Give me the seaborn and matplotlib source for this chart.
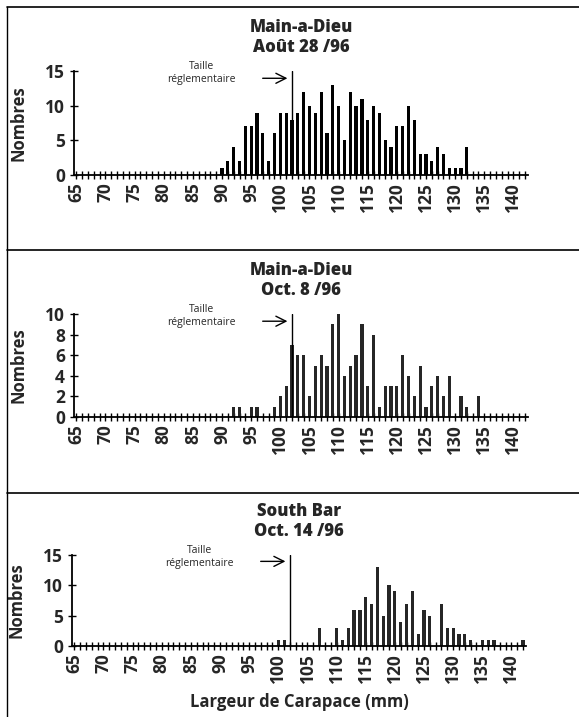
import matplotlib
matplotlib.use("Agg")
import matplotlib.pyplot as plt
import pandas as pd
import seaborn as sns
from matplotlib.lines import Line2D
from matplotlib.ticker import MultipleLocator


sns.set_theme(style="white")
plt.rcParams["font.family"] = ["Open Sans", "DejaVu Sans"]

# carapace width class (mm) and number of crabs, per sample
aug28_mm = [90, 91, 92, 93, 94, 95, 96, 97, 98, 99, 100, 101, 102, 103, 104,
            105, 106, 107, 108, 109, 110, 111, 112, 113, 114, 115, 116, 117,
            118, 119, 120, 121, 122, 123, 124, 125, 126, 127, 128, 129, 130,
            131, 132]
aug28_n = [1, 2, 4, 2, 7, 7, 9, 6, 2, 6, 9, 9, 8, 9, 12, 10, 9, 12, 6, 13,
           10, 5, 12, 10, 11, 8, 10, 9, 5, 4, 7, 7, 10, 8, 3, 3, 2, 4, 3, 1,
           1, 1, 4]

oct8_mm = [92, 93, 95, 96, 99, 100, 101, 102, 103, 104, 105, 106, 107, 108,
           109, 110, 111, 112, 113, 114, 115, 116, 117, 118, 119, 120, 121,
           122, 123, 124, 125, 126, 127, 128, 129, 131, 132, 134]
oct8_n = [1, 1, 1, 1, 1, 2, 3, 7, 6, 6, 2, 5, 6, 5, 9, 10, 4, 5, 6, 9, 3, 8,
          1, 3, 3, 3, 6, 4, 2, 5, 1, 3, 4, 2, 4, 2, 1, 2]

oct14_mm = [100, 101, 107, 110, 111, 112, 113, 114, 115, 116, 117, 118, 119,
            120, 121, 122, 123, 124, 125, 126, 128, 129, 130, 131, 132, 133,
            135, 136, 137, 142]
oct14_n = [1, 1, 3, 3, 1, 3, 6, 6, 8, 7, 13, 5, 10, 9, 4, 7, 9, 2, 6, 5, 7,
           3, 3, 2, 2, 1, 1, 1, 1, 1]

titles = ["Main-a-Dieu\nAoût 28 /96", "Main-a-Dieu\nOct. 8 /96",
          "South Bar\nOct. 14 /96"]
y_max = [15, 10, 15]
y_step = [5, 2, 5]
legal_size = 102
x_ticks = [65, 70, 75, 80, 85, 90, 95, 100, 105, 110, 115, 120, 125, 130,
           135, 140]

W, H = 579, 717


def rect(left, top, right, bottom):
    return [left / W, 1 - bottom / H, (right - left) / W, (bottom - top) / H]


def draw_panel(ax, mm, n, title, ymax, ystep, color, last):
    df = pd.DataFrame({"mm": mm, "n": n})
    sns.barplot(data=df, x="mm", y="n", native_scale=True, width=0.55,
                color=color, saturation=1, errorbar=None, linewidth=0,
                edgecolor="none", ax=ax)
    ax.set_xlim(64.6, 142.5)
    ax.set_ylim(0, ymax)
    ax.set_xticks(x_ticks)
    ax.xaxis.set_minor_locator(MultipleLocator(1))
    ax.yaxis.set_major_locator(MultipleLocator(ystep))
    ax.tick_params(axis="both", which="both", direction="inout", length=6,
                   width=1, color="black", labelsize=12.5, bottom=True,
                   left=True)
    ax.tick_params(axis="x", labelrotation=90, pad=2)
    plt.setp(ax.get_xticklabels() + ax.get_yticklabels(), fontweight="bold")
    sns.despine(ax=ax)
    for side in ["left", "bottom"]:
        ax.spines[side].set_color("black")
        ax.spines[side].set_linewidth(1.3)

    ax.axvline(legal_size, color="black", lw=1)
    trans = ax.get_xaxis_transform()
    ax.annotate("", xy=(legal_size - 0.3, 0.93), xytext=(96.5, 0.93),
                xycoords=trans,
                arrowprops=dict(arrowstyle="->,head_length=0.6,head_width=0.3",
                                lw=1, color="black"))
    ax.text(86.5, 0.98, "Taille\nréglementaire", transform=trans,
            ha="center", va="center", fontsize=7.5)

    ax.set_title(title, fontsize=12, fontweight="heavy", pad=14)
    ax.set_ylabel("Nombres", fontsize=12, fontweight="bold")
    ax.yaxis.set_label_coords(-0.102, 0.5)
    if last:
        ax.set_xlabel("Largeur de Carapace (mm)", fontsize=12,
                      fontweight="bold")
        ax.xaxis.set_label_coords(0.5, -0.52)
    else:
        ax.set_xlabel("")


fig = plt.figure(figsize=(W / 100, H / 100), dpi=100)
ax1 = fig.add_axes(rect(74, 71, 528, 175))
ax2 = fig.add_axes(rect(74, 314, 528, 417))
ax3 = fig.add_axes(rect(72, 555, 526, 646))

draw_panel(ax1, aug28_mm, aug28_n, titles[0], y_max[0], y_step[0], "black", False)
draw_panel(ax2, oct8_mm, oct8_n, titles[1], y_max[1], y_step[1], "#262626", False)
draw_panel(ax3, oct14_mm, oct14_n, titles[2], y_max[2], y_step[2], "#262626", True)

# page frame and panel separators
for y in [7, 250, 493]:
    fig.add_artist(Line2D([7 / W, 1], [1 - y / H, 1 - y / H],
                          transform=fig.transFigure, color="black", lw=1.2))
fig.add_artist(Line2D([7 / W, 7 / W], [0, 1 - 7 / H],
                      transform=fig.transFigure, color="black", lw=1))

fig.savefig("out.png", dpi=100)
